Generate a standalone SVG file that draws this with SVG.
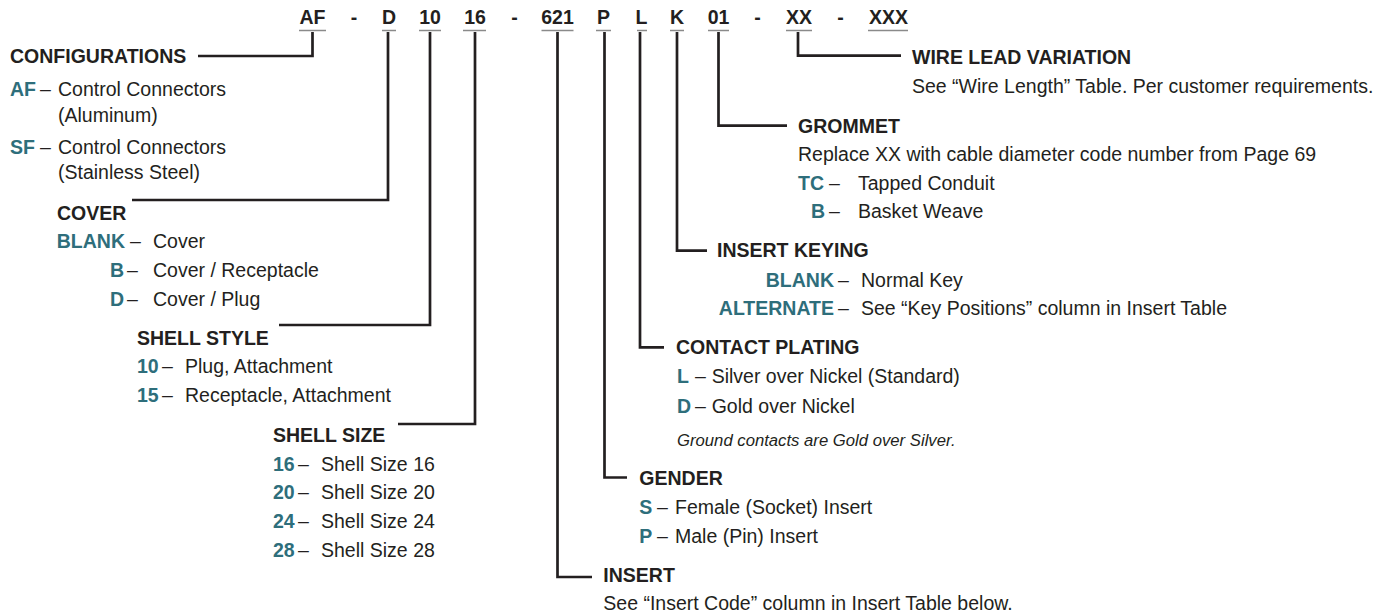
<svg xmlns="http://www.w3.org/2000/svg" width="1393" height="616" viewBox="0 0 1393 616">
<style>
text{font-family:"Liberation Sans",Arial,sans-serif;font-size:19.5px;fill:#231f20}
.b{font-weight:bold}
.t{font-weight:bold;fill:#2e6e7b}
.m{text-anchor:middle}
.e{text-anchor:end}
.i{font-style:italic;font-size:16.7px}
.ul{stroke:#8a8a8a;stroke-width:1.6;fill:none}
.ln{stroke:#231f20;stroke-width:2.7;fill:none;stroke-linejoin:miter;stroke-linecap:butt}
</style>
<rect width="1393" height="616" fill="#fff"/>
<g id="code">
<text class="b m" x="312.5" y="24.3">AF</text>
<text class="b m" x="354" y="24.3">-</text>
<text class="b m" x="389" y="24.3">D</text>
<text class="b m" x="430" y="24.3">10</text>
<text class="b m" x="475" y="24.3">16</text>
<text class="b m" x="514.5" y="24.3">-</text>
<text class="b m" x="557.5" y="24.3">621</text>
<text class="b m" x="603.5" y="24.3">P</text>
<text class="b m" x="641.5" y="24.3">L</text>
<text class="b m" x="677" y="24.3">K</text>
<text class="b m" x="718.5" y="24.3">01</text>
<text class="b m" x="757.5" y="24.3">-</text>
<text class="b m" x="799" y="24.3">XX</text>
<text class="b m" x="840.5" y="24.3">-</text>
<text class="b m" x="888.5" y="24.3">XXX</text>
<path class="ul" d="M299 30.5H326M382 30.5H396M419 30.5H441M463 30.5H486M541.5 30.5H573.5M596 30.5H611M637 30.5H647M670 30.5H684M708 30.5H729M786 30.5H812M868 30.5H908"/>
</g>
<g id="connectors">
<polyline class="ln" points="312.5,32 312.5,56 198,56"/>
<polyline class="ln" points="388,32 388,200 132,200"/>
<polyline class="ln" points="430,32 430,325 279,325"/>
<polyline class="ln" points="475,32 475,424 398,424"/>
<polyline class="ln" points="557.5,32 557.5,577 592,577"/>
<polyline class="ln" points="604.5,32 604.5,477.5 627,477.5"/>
<polyline class="ln" points="640,32 640,347.3 664,347.3"/>
<polyline class="ln" points="677,32 677,250.7 707,250.7"/>
<polyline class="ln" points="718.5,32 718.5,125.7 787,125.7"/>
<polyline class="ln" points="798,32 798,55.7 901,55.7"/>
</g>
<g id="configurations">
<text class="b" x="10" y="63.3">CONFIGURATIONS</text>
<text class="t" x="10" y="95.7">AF</text><text x="40" y="95.7">–</text><text x="58" y="95.7">Control Connectors</text>
<text x="58" y="121.7">(Aluminum)</text>
<text class="t" x="10" y="154">SF</text><text x="40" y="154">–</text><text x="58" y="154">Control Connectors</text>
<text x="58" y="179">(Stainless Steel)</text>
</g>
<g id="cover">
<text class="b" x="57" y="220">COVER</text>
<text class="t e" x="125" y="248.3">BLANK</text><text x="130" y="248.3">–</text><text x="153" y="248.3">Cover</text>
<text class="t e" x="124" y="277.3">B</text><text x="127" y="277.3">–</text><text x="153" y="277.3">Cover / Receptacle</text>
<text class="t e" x="124" y="306">D</text><text x="127" y="306">–</text><text x="153" y="306">Cover / Plug</text>
</g>
<g id="shell-style">
<text class="b" x="137" y="345">SHELL STYLE</text>
<text class="t" x="137" y="373.3">10</text><text x="162" y="373.3">–</text><text x="185" y="373.3">Plug, Attachment</text>
<text class="t" x="137" y="402.3">15</text><text x="162" y="402.3">–</text><text x="185" y="402.3">Receptacle, Attachment</text>
</g>
<g id="shell-size">
<text class="b" x="273" y="441.7">SHELL SIZE</text>
<text class="t" x="273" y="470.7">16</text><text x="298" y="470.7">–</text><text x="321" y="470.7">Shell Size 16</text>
<text class="t" x="273" y="499.3">20</text><text x="298" y="499.3">–</text><text x="321" y="499.3">Shell Size 20</text>
<text class="t" x="273" y="528.3">24</text><text x="298" y="528.3">–</text><text x="321" y="528.3">Shell Size 24</text>
<text class="t" x="273" y="556.7">28</text><text x="298" y="556.7">–</text><text x="321" y="556.7">Shell Size 28</text>
</g>
<g id="insert">
<text class="b" x="603.3" y="581.7">INSERT</text>
<text x="603.3" y="610">See “Insert Code” column in Insert Table below.</text>
</g>
<g id="gender">
<text class="b" x="639.3" y="485">GENDER</text>
<text class="t" x="639.3" y="514">S</text><text x="657" y="514">–</text><text x="675" y="514">Female (Socket) Insert</text>
<text class="t" x="639.3" y="542.7">P</text><text x="657" y="542.7">–</text><text x="675" y="542.7">Male (Pin) Insert</text>
</g>
<g id="contact-plating">
<text class="b" x="676" y="354.3">CONTACT PLATING</text>
<text class="t" x="677" y="383.3">L</text><text x="695" y="383.3">–</text><text x="711.7" y="383.3">Silver over Nickel (Standard)</text>
<text class="t" x="677" y="413">D</text><text x="695" y="413">–</text><text x="711.7" y="413">Gold over Nickel</text>
<text class="i" x="677" y="445.5">Ground contacts are Gold over Silver.</text>
</g>
<g id="insert-keying">
<text class="b" x="717" y="257.3">INSERT KEYING</text>
<text class="t e" x="834" y="286.7">BLANK</text><text x="838" y="286.7">–</text><text x="861" y="286.7">Normal Key</text>
<text class="t e" x="834" y="315">ALTERNATE</text><text x="838" y="315">–</text><text x="861" y="315">See “Key Positions” column in Insert Table</text>
</g>
<g id="grommet">
<text class="b" x="798" y="132.7">GROMMET</text>
<text x="798" y="160.7">Replace XX with cable diameter code number from Page 69</text>
<text class="t" x="798" y="190">TC</text><text x="829" y="190">–</text><text x="858" y="190">Tapped Conduit</text>
<text class="t e" x="825" y="218.3">B</text><text x="829" y="218.3">–</text><text x="858" y="218.3">Basket Weave</text>
</g>
<g id="wire-lead">
<text class="b" x="912" y="64">WIRE LEAD VARIATION</text>
<text x="912" y="92.7">See “Wire Length” Table. Per customer requirements.</text>
</g>
</svg>
